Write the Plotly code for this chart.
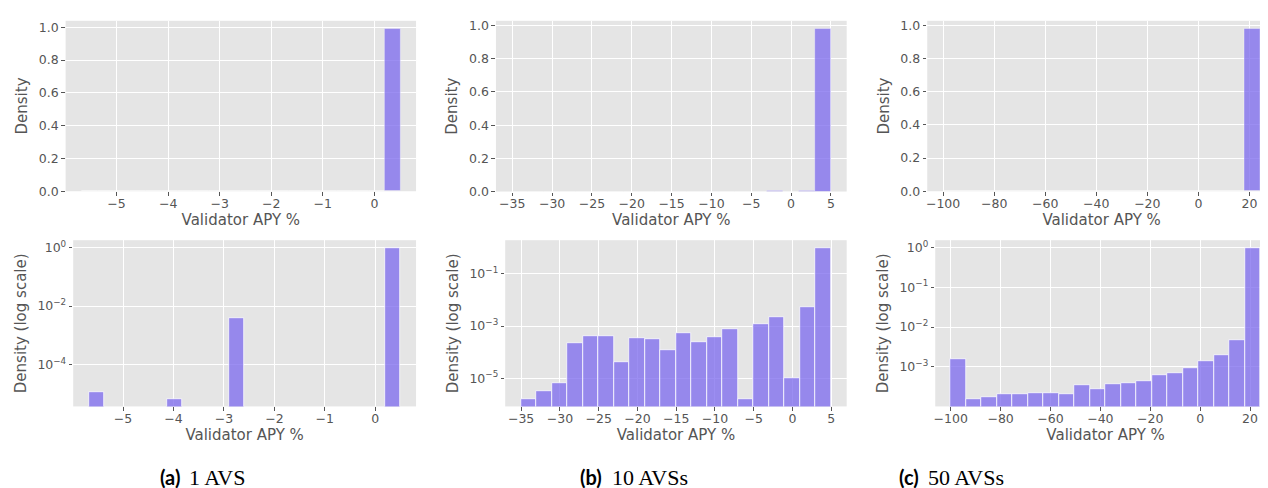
import numpy as np
import plotly.graph_objects as go

W, H = 1268, 488

# ---------------- data (histogram bins: 20 equal bins between lo and hi) ----------------
a_lo, a_hi = -5.68, 0.50
a_vals = [1.1e-5, 0, 0, 0, 0, 6.6e-6, 0, 0, 0, 3.8e-3,
          0, 0, 0, 0, 0, 0, 0, 0, 0, 0.99]

b_lo, b_hi = -35.05, 4.98
b_vals = [1.64e-6, 3.26e-6, 6.5e-6, 2.3e-4, 4.1e-4, 4.0e-4, 4.2e-5, 3.56e-4, 3.1e-4, 1.2e-4,
          5.15e-4, 2.38e-4, 3.66e-4, 7.7e-4, 1.64e-6, 1.18e-3, 2.1e-3, 9.7e-6, 5.2e-3, 0.98]

c_lo, c_hi = -100.0, 24.2
c_vals = [1.6e-3, 1.57e-4, 1.78e-4, 2.03e-4, 2.07e-4, 2.23e-4, 2.15e-4, 2.11e-4, 3.37e-4, 2.79e-4,
          3.63e-4, 3.85e-4, 4.39e-4, 6.14e-4, 6.75e-4, 9.1e-4, 1.35e-3, 1.92e-3, 4.56e-3, 0.98]

a_xticks = [-5, -4, -3, -2, -1, 0]
b_xticks = [-35, -30, -25, -20, -15, -10, -5, 0, 5]
c_xticks = [-100, -80, -60, -40, -20, 0, 20]

a_logticks = [0, -2, -4]
b_logticks = [-1, -3, -5]
c_logticks = [0, -1, -2, -3]

lin_ticks = [0.0, 0.2, 0.4, 0.6, 0.8, 1.0]

cap_labels = ["(a)", "(b)", "(c)"]
cap_texts = ["1 AVS", "10 AVSs", "50 AVSs"]
x_title = "Validator APY %"

# ---------------- layout geometry (pixels) ----------------
# (left, right, top, bottom)
top_boxes = [(55.7, 406.7, 10, 184), (486.7, 838, 10, 184.3), (918.7, 1268, 10, 184)]
bot_boxes = [(63.3, 406.7, 234, 403.7), (496, 838, 234, 403.7), (926.7, 1268, 234, 403.7)]
cap_lab_right = [172, 595, 912]
cap_txt_left = [177.5, 600.5, 917.5]
cap_y = 476

BAR = "rgba(123,104,238,0.75)"
EDGE = "rgba(255,255,255,0.75)"
TXT = "#555555"
FONT = "DejaVu Sans"

fig = go.Figure()

panels = [(a_lo, a_hi, a_vals, a_xticks, a_logticks),
          (b_lo, b_hi, b_vals, b_xticks, b_logticks),
          (c_lo, c_hi, c_vals, c_xticks, c_logticks)]


def xdom(l, r):
    return [l / W, min(r / W, 1.0)]


def ydom(t, b):
    return [1 - b / H, 1 - t / H]


axis_n = 0
for col, (lo, hi, vals, xt, lt) in enumerate(panels):
    edges = np.linspace(lo, hi, len(vals) + 1)
    centers = (edges[:-1] + edges[1:]) / 2
    width = edges[1] - edges[0]
    span = hi - lo
    xr = [lo - 0.05 * span, hi + 0.05 * span]
    vals = np.array(vals, dtype=float)
    pos = vals[vals > 0]
    lmin, lmax = np.log10(pos.min()), np.log10(pos.max())
    lspan = lmax - lmin
    yr_log = [lmin - 0.05 * lspan, lmax + 0.05 * lspan]
    yr_lin = [0, vals.max() * 1.05]

    for row in range(2):
        axis_n += 1
        sfx = "" if axis_n == 1 else str(axis_n)
        box = top_boxes[col] if row == 0 else bot_boxes[col]
        fig.add_trace(go.Bar(
            x=centers, y=vals, width=[width] * len(vals),
            marker=dict(color=BAR, line=dict(color=EDGE, width=1 if row == 1 else 0.5)),
            xaxis="x" + sfx, yaxis="y" + sfx, showlegend=False,
            hoverinfo="x+y"))
        xa = dict(domain=xdom(box[0], box[1]), anchor="y" + sfx, range=xr,
                  tickmode="array", tickvals=xt,
                  showgrid=True, gridcolor="white", gridwidth=1.2,
                  zeroline=False, showline=False,
                  ticks="outside", ticklen=3.5, tickcolor=TXT, tickwidth=1,
                  ticklabelstandoff=-3,
                  tickfont=dict(family=FONT, size=12.5, color=TXT),
                  title=dict(text=x_title, font=dict(family=FONT, size=15, color=TXT), standoff=0))
        if row == 0:
            ya = dict(domain=ydom(box[2], box[3]), anchor="x" + sfx, range=yr_lin,
                      tickmode="array", tickvals=lin_ticks, tickformat=".1f",
                      title=dict(text="Density", font=dict(family=FONT, size=15, color=TXT), standoff=7))
        else:
            ya = dict(domain=ydom(box[2], box[3]), anchor="x" + sfx, type="log", range=yr_log,
                      tickmode="array", tickvals=[10.0 ** k for k in lt],
                      ticktext=["10<sup>%s</sup>" % (str(k).replace("-", "\u2212")) for k in lt],
                      title=dict(text="Density (log scale)", font=dict(family=FONT, size=15, color=TXT), standoff=7))
        ya.update(showgrid=True, gridcolor="white", gridwidth=1.2, zeroline=False, showline=False,
                  ticks="outside", ticklen=3.5, tickcolor=TXT, tickwidth=1,
                  tickfont=dict(family=FONT, size=12.5, color=TXT))
        fig.layout["xaxis" + sfx] = xa
        fig.layout["yaxis" + sfx] = ya

annotations = []
for lab, txt, xr_, xl_ in zip(cap_labels, cap_texts, cap_lab_right, cap_txt_left):
    annotations.append(dict(
        x=xr_ / W, y=1 - cap_y / H, xref="paper", yref="paper",
        xanchor="right", yanchor="middle", showarrow=False,
        text="<b>%s</b>" % lab,
        font=dict(family="Lato", size=20, color="black")))
    annotations.append(dict(
        x=xl_ / W, y=1 - cap_y / H, xref="paper", yref="paper",
        xanchor="left", yanchor="middle", showarrow=False,
        text=txt,
        font=dict(family="Liberation Serif", size=22, color="black")))

fig.update_layout(
    width=W, height=H, autosize=False,
    margin=dict(l=0, r=0, t=0, b=0),
    paper_bgcolor="white", plot_bgcolor="#E5E5E5",
    bargap=0, barmode="overlay",
    annotations=annotations,
)

fig.write_html("out.html")
